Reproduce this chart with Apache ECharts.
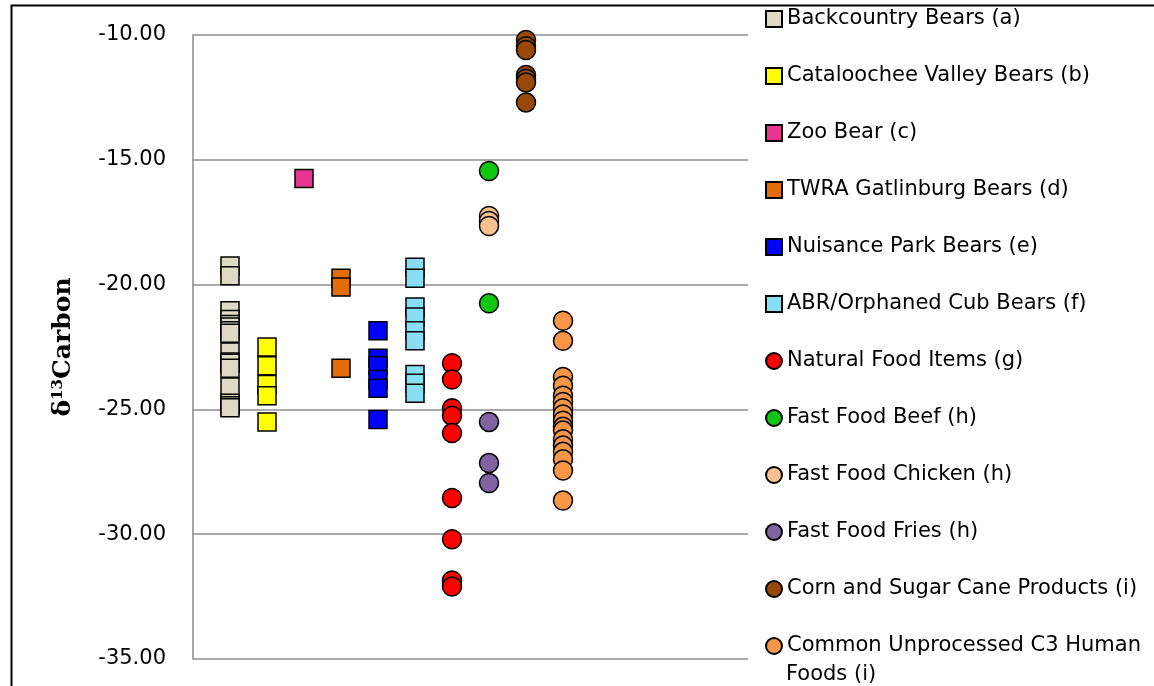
<!DOCTYPE html>
<html>
<head>
<meta charset="utf-8">
<script src="https://cdn.jsdelivr.net/npm/echarts@6/dist/echarts.min.js"></script>
<style>
  html, body { margin: 0; padding: 0; background: #fff; }
  #chart { width: 1154px; height: 686px; }
</style>
</head>
<body>
<div id="chart"></div>
<script>
// group names (legend order) and x slot of each group
var groupNames = [
  'Backcountry Bears (a)',
  'Cataloochee Valley Bears (b)',
  'Zoo Bear (c)',
  'TWRA Gatlinburg Bears (d)',
  'Nuisance Park Bears (e)',
  'ABR/Orphaned Cub Bears (f)',
  'Natural Food Items (g)',
  'Fast Food Beef (h)',
  'Fast Food Chicken (h)',
  'Fast Food Fries (h)',
  'Corn and Sugar Cane Products (i)',
  'Common Unprocessed C3 Human Foods (i)'
];
var groupSlots = [1, 2, 3, 4, 5, 6, 7, 8, 8, 8, 9, 10];

// δ13C values
var backcountry = [-19.25, -19.65, -21.05, -21.4, -21.6, -21.7, -21.85, -21.95, -22.7, -23.1, -23.15, -23.35, -24.1, -24.75, -24.85, -24.93];
var cataloochee = [-22.5, -23.25, -24.0, -24.45, -25.5];
var zoo = [-15.75];
var twra = [-19.75, -20.1, -23.35];
var nuisance = [-21.85, -22.95, -23.25, -23.8, -24.15, -25.4];
var abr = [-19.3, -19.75, -20.9, -21.3, -21.85, -22.25, -23.6, -23.95, -24.35];
var natural = [-23.15, -23.8, -24.95, -25.25, -25.95, -28.55, -30.2, -31.85, -32.1];
var beef = [-15.45, -20.75];
var chicken = [-17.25, -17.45, -17.65];
var fries = [-25.5, -27.15, -27.95];
var corn = [-10.2, -10.45, -10.6, -11.6, -11.75, -11.9, -12.7];
var c3Foods = [-21.45, -22.25, -23.7, -24.05, -24.45, -24.7, -24.95, -25.2, -25.45, -25.7, -25.85, -26.2, -26.45, -26.7, -27.0, -27.45, -28.65];

var groupValues = [backcountry, cataloochee, zoo, twra, nuisance, abr, natural, beef, chicken, fries, corn, c3Foods];
var groupColors = ['#DDD9C4', '#FFFF00', '#E93590', '#E46C0A', '#0000FF', '#89DFF1',
                   '#FF0000', '#10C610', '#FAC090', '#8064A2', '#984807', '#F79646'];
var yTicks = { min: -35, max: -10, step: 5 };

var fontSans = 'DejaVu Sans';

var chart = echarts.init(document.getElementById('chart'));

var series = groupNames.map(function (name, i) {
  var isSquare = i < 6;
  return {
    name: name,
    type: 'scatter',
    symbol: isSquare ? 'rect' : 'circle',
    symbolSize: isSquare ? 18 : 19,
    itemStyle: {
      color: groupColors[i],
      borderColor: '#000',
      borderWidth: 1.5,
      opacity: 1
    },
    emphasis: { disabled: true },
    data: groupValues[i].map(function (v) { return [groupSlots[i], v]; })
  };
});

var option = {
  animation: false,
  grid: {
    left: 193,
    right: 406,
    top: 35,
    bottom: 27,
    containLabel: false
  },
  legend: {
    orient: 'vertical',
    left: 760,
    top: -1,
    itemWidth: 16,
    itemHeight: 16,
    itemGap: 27,
    data: groupNames,
    formatter: function (name) {
      // the long last entry wraps; its second line is added below
      return name === groupNames[11] ? 'Common Unprocessed C3 Human' : name;
    },
    textStyle: {
      fontFamily: fontSans,
      fontSize: 21,
      lineHeight: 30,
      color: '#000'
    }
  },
  xAxis: {
    type: 'value',
    min: 0,
    max: 15,
    show: false
  },
  yAxis: {
    type: 'value',
    min: yTicks.min,
    max: yTicks.max,
    interval: yTicks.step,
    name: '{d|δ}{s|13}{c|Carbon}',
    nameLocation: 'middle',
    nameRotate: 90,
    nameGap: 117,
    nameTextStyle: {
      rich: {
        d: { fontFamily: 'DejaVu Serif', fontWeight: 'bold', fontSize: 25, color: '#000' },
        s: { fontFamily: 'DejaVu Serif', fontWeight: 'bold', fontSize: 15, color: '#000', verticalAlign: 'top', padding: [0, 0, 10, 0] },
        c: { fontFamily: 'DejaVu Serif', fontWeight: 'bold', fontSize: 25, color: '#000' }
      }
    },
    axisLine: { show: true, lineStyle: { color: '#898989', width: 1.5 } },
    axisTick: { show: false },
    axisLabel: {
      margin: 27,
      fontFamily: fontSans,
      fontSize: 21,
      color: '#000',
      formatter: function (v) { return v.toFixed(2); }
    },
    splitLine: {
      show: true,
      lineStyle: { color: '#8e8e8e', width: 1.5 }
    }
  },
  graphic: [
    {
      // outer chart border (cut off on the right and bottom)
      type: 'rect',
      left: 9,
      top: 3,
      shape: { width: 1300, height: 900 },
      style: { fill: 'none', stroke: '#000', lineWidth: 2 },
      silent: true
    },
    {
      type: 'text',
      left: 786,
      top: 664,
      style: { text: 'Foods (i)', font: '21px "DejaVu Sans"', fill: '#000' },
      silent: true
    }
  ],
  series: series
};

chart.setOption(option);
</script>
</body>
</html>
